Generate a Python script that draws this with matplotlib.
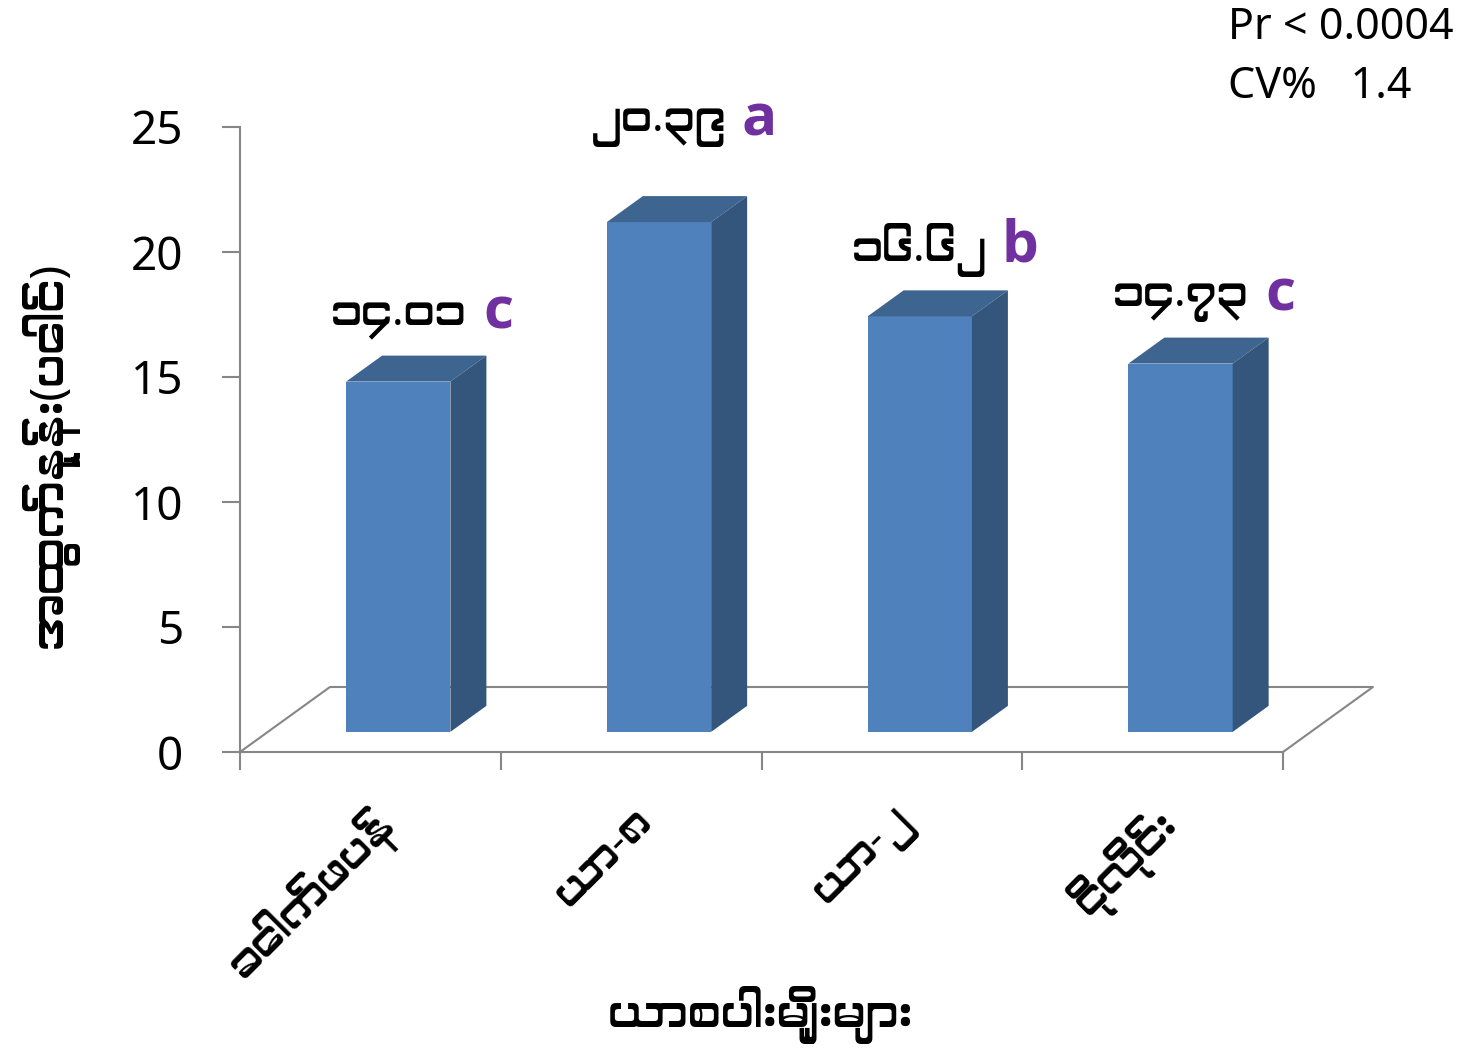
import matplotlib
matplotlib.use("Agg")
import matplotlib.pyplot as plt
from matplotlib import font_manager
from matplotlib.patches import Rectangle, Polygon

# fonts: use a Myanmar font if one happens to be installed
names = sorted({f.name for f in font_manager.fontManager.ttflist})
mm = [n for n in names if "Myanmar" in n or "Padauk" in n]
plt.rcParams["font.family"] = ["Noto Sans"] + mm + ["DejaVu Sans"]

# data
cats = ["ခေါက်ဖပန်", "ယာ-၈", "ယာ-၂", "ငိုလိုင်း"]
values = [14.01, 20.39, 16.62, 14.73]
value_text = ["၁၄.၀၁", "၂၀.၃၉", "၁၆.၆၂", "၁၄.၇၃"]
letters = ["c", "a", "b", "c"]
yticks = [0, 5, 10, 15, 20, 25]
xlabel = "ယာစပါးမျိုးများ"
ylabel = "အထွက်နှုန်း(ပေါင်)"
stats = ["Pr < 0.0004", "CV%   1.4"]

front_c = "#4F81BD"
top_c = "#3E6590"
side_c = "#34557C"
axis_c = "#868686"
letter_c = "#7030A0"

fig = plt.figure(figsize=(14.59, 10.53), dpi=100)
ax = fig.add_axes([240/1459, 1-752/1053, 1043/1459, 625/1053])
ax.set_xlim(0, 4)
ax.set_ylim(0, 25)

# fake 3d floor
depth_x, depth_y = 0.345, 2.6
ax.plot([0, depth_x, 4+depth_x, 4], [0, depth_y, depth_y, 0],
        color=axis_c, lw=1.5, clip_on=False, zorder=1)

d0, d1 = 0.31, 0.71
w = 0.4
dx = (d1-d0)*depth_x
dy = (d1-d0)*depth_y
label_gap = [1.5, 2.85, 1.6, 1.5]
for i, v in enumerate(values):
    x0 = i + 0.5 - w/2 + d0*depth_x
    y0 = d0*depth_y
    ax.add_patch(Rectangle((x0, y0), w, v, fc=front_c, ec="none", zorder=3, clip_on=False))
    ax.add_patch(Polygon([(x0, y0+v), (x0+w, y0+v), (x0+w+dx, y0+v+dy), (x0+dx, y0+v+dy)],
                         closed=True, fc=top_c, ec="none", zorder=3, clip_on=False))
    ax.add_patch(Polygon([(x0+w, y0), (x0+w+dx, y0+dy), (x0+w+dx, y0+v+dy), (x0+w, y0+v)],
                         closed=True, fc=side_c, ec="none", zorder=3, clip_on=False))
    ty = y0 + v + dy + label_gap[i]
    ax.text(x0 + w/2, ty, value_text[i], ha="center", va="center",
            fontsize=31, color="black", zorder=5, clip_on=False)
    ax.annotate(letters[i], (x0 + w/2, ty), xytext=(72, 3), textcoords="offset points",
                ha="center", va="center", fontsize=42, fontweight="bold",
                family=["Open Sans", "DejaVu Sans"],
                color=letter_c, zorder=5, annotation_clip=False)

# axes
for s in ["top", "right"]:
    ax.spines[s].set_visible(False)
ax.spines["left"].set_color(axis_c)
ax.spines["bottom"].set_color(axis_c)
ax.spines["left"].set_linewidth(1.5)
ax.spines["bottom"].set_linewidth(1.5)

ax.set_yticks(yticks)
ax.tick_params(axis="y", length=13, width=1.5, color=axis_c, labelsize=33, pad=28)
ax.set_xticks([0, 1, 2, 3, 4])
ax.set_xticklabels([])
ax.set_xticks([0.5, 1.5, 2.5, 3.5], minor=True)
ax.set_xticklabels(cats, minor=True, rotation=45, ha="right", va="top",
                   rotation_mode="anchor", fontsize=31)
ax.tick_params(axis="x", which="major", length=13, width=1.5, color=axis_c)
ax.tick_params(axis="x", which="minor", length=0, pad=34)

fig.text(760/1459, 1-1015/1053, xlabel, ha="center", va="center", fontsize=33)
fig.text(50/1459, 1-455/1053, ylabel, ha="center", va="center", rotation=90, fontsize=33)

fig.text(1228/1459, 1-28/1053, stats[0], ha="left", va="center", fontsize=31)
fig.text(1228/1459, 1-87/1053, stats[1], ha="left", va="center", fontsize=31)

fig.savefig("out.png", dpi=100)
